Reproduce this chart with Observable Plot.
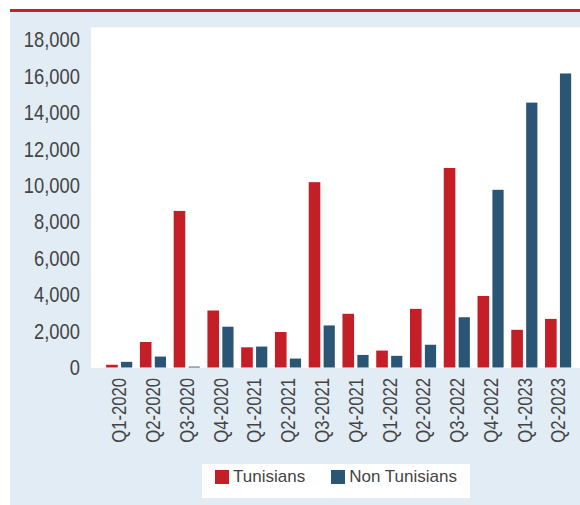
<!DOCTYPE html>
<html>
<head>
<meta charset="utf-8">
<script src="https://cdn.jsdelivr.net/npm/d3@7"></script>
<script src="https://cdn.jsdelivr.net/npm/@observablehq/plot@0.6"></script>
<style>
  html, body { margin: 0; padding: 0; background: #ffffff; overflow: hidden; width: 580px; height: 505px; }
  #panel {
    position: absolute; left: 10px; top: 9px; width: 570px; height: 496px;
    background: #e1ecf5; border-top: 3px solid #c8202b; overflow: hidden;
    font-family: "Liberation Sans", Arial, sans-serif;
    color: #444444;
  }
  #chart { position: absolute; left: 0; top: 0; }
  #chart svg { background: transparent !important; overflow: visible; }
  #chart [aria-label^="x-axis"] text { font-size: 21px; }
  #chart [aria-label^="y-axis"] text { font-size: 22px; }
  #legendBox {
    position: absolute; left: 192px; top: 452px; width: 268px; height: 34px;
    background: #ffffff; display: flex; align-items: center; justify-content: center;
  }
  #legendBox .lg { min-height: 0 !important; margin: 0 !important; display: flex; align-items: center; }
  #legendBox .lg-swatch { margin-right: 26px !important; }
  #legendBox .lg-swatch:last-child { margin-right: 0 !important; }
  #legendBox .lg-swatch > svg { margin-right: 4px !important; }
</style>
</head>
<body>
<div id="panel">
  <div id="chart"></div>
  <div id="legendBox"></div>
</div>
<script>
const quarters = ["Q1-2020","Q2-2020","Q3-2020","Q4-2020","Q1-2021","Q2-2021","Q3-2021","Q4-2021","Q1-2022","Q2-2022","Q3-2022","Q4-2022","Q1-2023","Q2-2023"];
const tunisians = [150, 1400, 8600, 3130, 1110, 1950, 10180, 2950, 930, 3220, 10960, 3930, 2070, 2670];
const nonTunisians = [310, 600, 50, 2240, 1150, 490, 2310, 690, 640, 1250, 2760, 9760, 14550, 16150];
const yTicks = [0, 2000, 4000, 6000, 8000, 10000, 12000, 14000, 16000, 18000];
const seriesNames = ["Tunisians", "Non Tunisians"];
const seriesColors = ["#c41f26", "#2a5574"];

const rowsT = quarters.map((q, i) => ({quarter: q, series: seriesNames[0], value: tunisians[i]}));
const rowsN = quarters.map((q, i) => ({quarter: q, series: seriesNames[1], value: nonTunisians[i]}));

const fontFamily = '"Liberation Sans", Arial, sans-serif';
const fmt = d3.format(",.0f");

const chart = Plot.plot({
  width: 574,
  height: 440,
  marginLeft: 87.9,
  marginRight: 0.3,
  marginTop: 28,
  marginBottom: 82,
  style: {background: "transparent", color: "#444444", fontFamily, fontSize: "22px"},
  x: {domain: quarters, padding: 0, tickRotate: -90, tickSize: 0, tickPadding: 10, label: null},
  y: {domain: [0, 18000], ticks: yTicks, tickFormat: d => fmt(d), tickSize: 0, tickPadding: 18, label: null},
  color: {domain: seriesNames, range: seriesColors},
  marks: [
    Plot.frame({fill: "white", stroke: "none", insetLeft: -6.9, insetTop: -13, insetRight: -10}),
    Plot.barY(rowsT, {x: "quarter", y: "value", fill: "series", insetLeft: 3.8, insetRight: 18.5}),
    Plot.barY(rowsN, {x: "quarter", y: "value", fill: "series", insetLeft: 18.8, insetRight: 3.9})
  ]
});
document.getElementById("chart").appendChild(chart);

// condense the axis text to mimic the narrow typeface of the original
function condense(selector, ratio) {
  chart.querySelectorAll(selector).forEach(t => {
    const w = t.getComputedTextLength();
    if (w > 0) {
      t.setAttribute("textLength", (w * ratio).toFixed(2));
      t.setAttribute("lengthAdjust", "spacingAndGlyphs");
    }
  });
}
condense('[aria-label^="y-axis"] text', 0.84);
condense('[aria-label^="x-axis"] text', 0.8);

const legend = Plot.legend({
  color: {domain: seriesNames, range: seriesColors},
  legend: "swatches",
  swatchSize: 14,
  className: "lg",
  style: {fontFamily, fontSize: "17px", color: "#444444"}
});
document.getElementById("legendBox").appendChild(legend);
</script>
</body>
</html>
